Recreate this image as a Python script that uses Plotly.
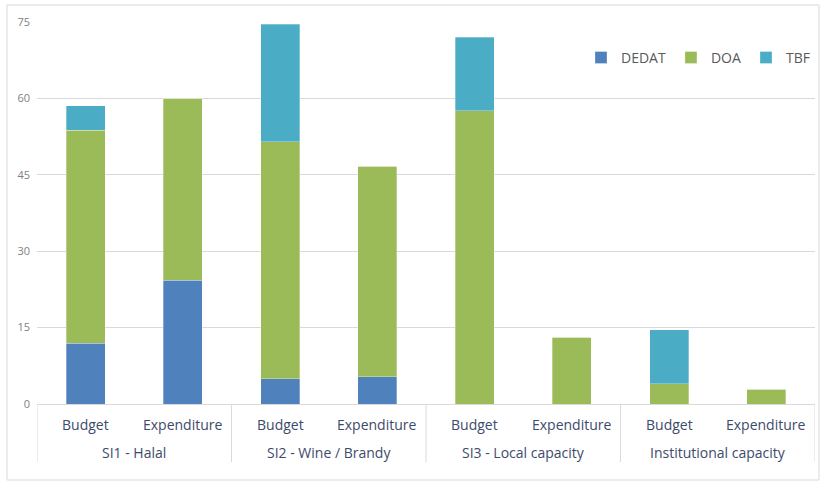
import plotly.graph_objects as go

groups = ["SI1 - Halal", "SI2 - Wine / Brandy", "SI3 - Local capacity", "Institutional capacity"]
kinds = ["Budget", "Expenditure"]

dedat = [11.9, 24.3, 5.0, 5.4, 0, 0, 0, 0]
doa = [41.8, 35.7, 46.5, 41.3, 57.6, 13.1, 4.0, 2.9]
tbf = [4.9, 0, 23.1, 0, 14.4, 0, 10.6, 0]

series = [("DEDAT", dedat, "#4F81BD"), ("DOA", doa, "#9BBB59"), ("TBF", tbf, "#4BACC6")]

n_sub = len(kinds)
pos = list(range(len(groups) * n_sub))

fig = go.Figure()
for name, vals, col in series:
    fig.add_trace(go.Bar(
        x=pos, y=vals, name=name,
        marker=dict(color=col, line=dict(color="rgba(255,255,255,0.6)", width=0.5)),
    ))

label_font = dict(family="Open Sans", size=14, color="#3E4A6B")
for gi, g in enumerate(groups):
    for si, k in enumerate(kinds):
        fig.add_annotation(x=gi * n_sub + si, y=-0.054, xref="x", yref="paper",
                           text=k, showarrow=False, font=label_font,
                           xanchor="center", yanchor="middle")
    fig.add_annotation(x=gi * n_sub + (n_sub - 1) / 2, y=-0.127, xref="x", yref="paper",
                       text=g, showarrow=False, font=label_font,
                       xanchor="center", yanchor="middle")
for gi in range(len(groups) + 1):
    xd = gi * n_sub - 0.5
    fig.add_shape(type="line", xref="x", yref="paper", x0=xd, x1=xd, y0=0, y1=-0.152,
                  line=dict(color="#D9D9D9", width=1))

fig.update_layout(
    barmode="stack",
    bargap=0.6,
    width=821, height=484,
    margin=dict(l=37, r=6, t=22, b=80),
    paper_bgcolor="white", plot_bgcolor="white",
    font=dict(family="Open Sans", color="#595959"),
    legend=dict(orientation="h", x=1.0, xanchor="right", y=0.906, yanchor="middle",
                font=dict(size=14, color="#595959"), bgcolor="rgba(0,0,0,0)",
                itemwidth=30, traceorder="normal"),
    showlegend=True,
)
fig.update_yaxes(range=[0, 75], tickvals=[0, 15, 30, 45, 60, 75],
                 showgrid=True, gridcolor="#D9D9D9", gridwidth=1,
                 zeroline=False, showline=False,
                 tickfont=dict(size=11, color="#7F7F7F"), ticks="", ticklabelstandoff=6)
fig.update_xaxes(range=[-0.5, len(pos) - 0.5], showline=True, linecolor="#D9D9D9", linewidth=1,
                 showgrid=False, zeroline=False, showticklabels=False, ticks="")
fig.add_shape(type="rect", xref="paper", yref="paper",
              x0=(7 - 37) / 778, x1=(819 - 37) / 778,
              y0=-(480 - 404) / 382, y1=(404 - 5) / 382,
              line=dict(color="#D9D9D9", width=1), fillcolor="rgba(0,0,0,0)", layer="below")

fig.write_html("out.html")
